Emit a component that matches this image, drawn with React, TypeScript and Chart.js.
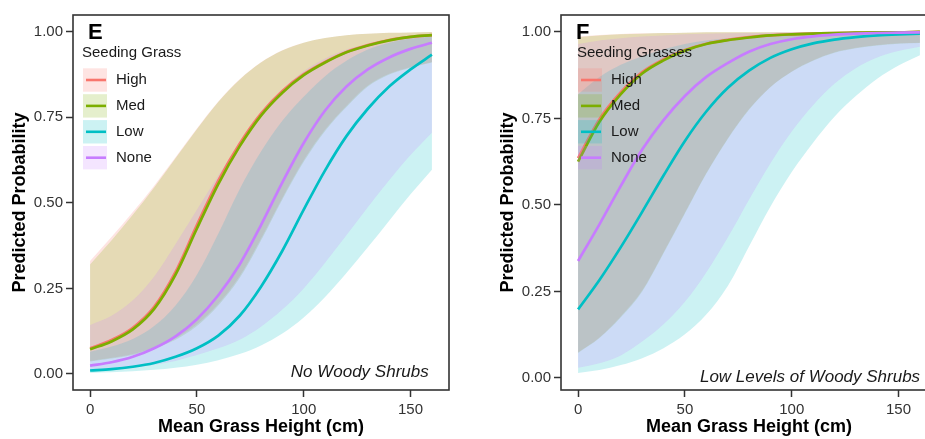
import React, { useEffect, useRef } from "react";
import { Chart, registerables } from "chart.js";

Chart.register(...registerables);

const FONT = "'Liberation Sans', Arial, Helvetica, sans-serif";
Chart.defaults.font.family = FONT;

// ---------- shared ----------
const heights = [0, 10, 20, 30, 40, 50, 60, 70, 80, 90, 100, 110, 120, 130, 140, 150, 160];
const groups = ["High", "Med", "Low", "None"];
const groupColors = ["#F8766D", "#7CAE00", "#00BFC4", "#C77CFF"];
const groupFills = [
  "rgba(248,118,109,0.2)",
  "rgba(124,174,0,0.2)",
  "rgba(0,191,196,0.2)",
  "rgba(199,124,255,0.2)",
];
const xTicks = [0, 50, 100, 150];
const yTicks = [0, 0.25, 0.5, 0.75, 1.0];

// ---------- panel E : No Woody Shrubs ----------
const eHighFit = [0.075, 0.099, 0.135, 0.196, 0.298, 0.435, 0.565, 0.673, 0.761, 0.827, 0.876, 0.912, 0.941, 0.961, 0.976, 0.985, 0.99];
const eMedFit = [0.072, 0.095, 0.13, 0.19, 0.29, 0.425, 0.555, 0.665, 0.755, 0.822, 0.873, 0.91, 0.94, 0.96, 0.975, 0.985, 0.99];
const eLowFit = [0.01, 0.014, 0.021, 0.032, 0.05, 0.075, 0.112, 0.17, 0.255, 0.36, 0.48, 0.595, 0.695, 0.775, 0.84, 0.89, 0.933];
const eNoneFit = [0.024, 0.034, 0.05, 0.075, 0.11, 0.16, 0.23, 0.32, 0.435, 0.56, 0.675, 0.77, 0.84, 0.89, 0.925, 0.95, 0.968];

const eHighHi = [0.33, 0.4, 0.473, 0.55, 0.633, 0.717, 0.796, 0.861, 0.911, 0.946, 0.968, 0.982, 0.99, 0.994, 0.997, 0.998, 0.999];
const eHighLo = [0.038, 0.047, 0.058, 0.078, 0.104, 0.145, 0.205, 0.286, 0.396, 0.515, 0.625, 0.714, 0.784, 0.843, 0.877, 0.897, 0.912];
const eMedHi = [0.32, 0.39, 0.465, 0.545, 0.63, 0.715, 0.795, 0.86, 0.91, 0.945, 0.968, 0.982, 0.99, 0.994, 0.997, 0.998, 0.999];
const eMedLo = [0.036, 0.045, 0.055, 0.075, 0.1, 0.14, 0.2, 0.28, 0.39, 0.51, 0.62, 0.71, 0.78, 0.84, 0.875, 0.895, 0.91];
const eLowHi = [0.065, 0.08, 0.102, 0.14, 0.2, 0.29, 0.41, 0.54, 0.65, 0.74, 0.81, 0.87, 0.915, 0.948, 0.968, 0.98, 0.986];
const eLowLo = [0.003, 0.005, 0.008, 0.012, 0.018, 0.027, 0.04, 0.058, 0.083, 0.118, 0.165, 0.225, 0.295, 0.37, 0.448, 0.525, 0.597];
const eNoneHi = [0.143, 0.17, 0.215, 0.285, 0.38, 0.48, 0.58, 0.675, 0.76, 0.83, 0.885, 0.922, 0.948, 0.964, 0.975, 0.983, 0.988];
const eNoneLo = [0.008, 0.012, 0.018, 0.027, 0.038, 0.055, 0.075, 0.1, 0.138, 0.188, 0.25, 0.325, 0.405, 0.487, 0.566, 0.64, 0.705];

// ---------- panel F : Low Levels of Woody Shrubs ----------
const fHighFit = [0.635, 0.748, 0.826, 0.884, 0.921, 0.948, 0.966, 0.977, 0.985, 0.99, 0.993, 0.995, 0.997, 0.998, 0.999, 0.999, 1.0];
const fMedFit = [0.625, 0.74, 0.82, 0.88, 0.918, 0.946, 0.965, 0.976, 0.984, 0.99, 0.993, 0.995, 0.997, 0.998, 0.999, 0.999, 1.0];
const fLowFit = [0.198, 0.283, 0.378, 0.48, 0.585, 0.685, 0.77, 0.838, 0.888, 0.925, 0.95, 0.967, 0.978, 0.985, 0.99, 0.993, 0.995];
const fNoneFit = [0.338, 0.444, 0.555, 0.66, 0.745, 0.815, 0.87, 0.91, 0.943, 0.965, 0.979, 0.987, 0.992, 0.995, 0.997, 0.998, 0.999];

const fHighHi = [0.987, 0.991, 0.994, 0.996, 0.997, 0.998, 0.999, 0.999, 0.999, 0.999, 0.999, 0.999, 0.999, 0.999, 0.999, 0.999, 0.999];
const fHighLo = [0.074, 0.117, 0.178, 0.253, 0.363, 0.478, 0.592, 0.692, 0.777, 0.841, 0.886, 0.918, 0.941, 0.954, 0.962, 0.967, 0.969];
const fMedHi = [0.985, 0.99, 0.993, 0.995, 0.997, 0.998, 0.999, 0.999, 0.999, 0.999, 0.999, 0.999, 0.999, 0.999, 0.999, 0.999, 0.999];
const fMedLo = [0.072, 0.115, 0.175, 0.25, 0.36, 0.475, 0.59, 0.69, 0.775, 0.84, 0.885, 0.917, 0.94, 0.953, 0.961, 0.966, 0.968];
const fLowHi = [0.82, 0.87, 0.905, 0.93, 0.95, 0.965, 0.975, 0.982, 0.987, 0.99, 0.993, 0.995, 0.996, 0.997, 0.998, 0.998, 0.999];
const fLowLo = [0.0145, 0.023, 0.037, 0.057, 0.086, 0.126, 0.183, 0.265, 0.38, 0.495, 0.595, 0.68, 0.755, 0.815, 0.865, 0.903, 0.933];
const fNoneHi = [0.965, 0.975, 0.982, 0.987, 0.99, 0.993, 0.995, 0.996, 0.997, 0.998, 0.999, 0.999, 0.999, 0.999, 0.999, 0.999, 0.999];
const fNoneLo = [0.029, 0.042, 0.065, 0.105, 0.155, 0.22, 0.305, 0.405, 0.515, 0.62, 0.712, 0.788, 0.85, 0.895, 0.926, 0.945, 0.957];

type PanelCfg = {
  letter: string;
  legendTitle: string;
  legendX: number;
  note: string;
  noteX: number;
  noteY: number;
  yMin: number;
  yMax: number;
  fits: number[][];
  his: number[][];
  los: number[][];
};

const panelE: PanelCfg = {
  letter: "E",
  legendTitle: "Seeding Grass",
  legendX: 10,
  note: "No Woody Shrubs",
  noteX: 158.5,
  noteY: -0.008,
  yMin: -0.047,
  yMax: 1.049,
  fits: [eHighFit, eMedFit, eLowFit, eNoneFit],
  his: [eHighHi, eMedHi, eLowHi, eNoneHi],
  los: [eHighLo, eMedLo, eLowLo, eNoneLo],
};

const panelF: PanelCfg = {
  letter: "F",
  legendTitle: "Seeding Grasses",
  legendX: 17,
  note: "Low Levels of Woody Shrubs",
  noteX: 160.1,
  noteY: -0.012,
  yMin: -0.035,
  yMax: 1.049,
  fits: [fHighFit, fMedFit, fLowFit, fNoneFit],
  his: [fHighHi, fMedHi, fLowHi, fNoneHi],
  los: [fHighLo, fMedLo, fLowLo, fNoneLo],
};

const pts = (arr: number[]) => heights.map((x, i) => ({ x, y: arr[i] }));

const decorPlugin = {
  id: "panelDecor",
  afterDraw(chart: any, _args: any, opts: any) {
    const { ctx, chartArea: a } = chart;
    ctx.save();
    // panel border
    ctx.strokeStyle = "#333333";
    ctx.lineWidth = 1.6;
    ctx.strokeRect(a.left, a.top, a.right - a.left, a.bottom - a.top);
    // panel letter
    ctx.fillStyle = "#000";
    ctx.textAlign = "left";
    ctx.textBaseline = "alphabetic";
    ctx.font = `bold 22px ${FONT}`;
    ctx.fillText(opts.letter, a.left + 15, a.top + 23.5);
    // legend
    const kx = a.left + opts.legendX;
    ctx.font = `15px ${FONT}`;
    ctx.fillStyle = "#1a1a1a";
    ctx.fillText(opts.legendTitle, kx - 1, a.top + 42.3);
    groups.forEach((g: string, i: number) => {
      const top = a.top + 53.3 + i * 25.9;
      const cy = top + 11.7;
      ctx.fillStyle = groupFills[i];
      ctx.fillRect(kx, top, 24, 23.4);
      ctx.strokeStyle = groupColors[i];
      ctx.lineWidth = 2.6;
      ctx.beginPath();
      ctx.moveTo(kx + 3, cy);
      ctx.lineTo(kx + 23, cy);
      ctx.stroke();
      ctx.fillStyle = "#1a1a1a";
      ctx.textBaseline = "middle";
      ctx.fillText(g, kx + 33, cy);
      ctx.textBaseline = "alphabetic";
    });
    // annotation
    ctx.font = `italic 17px ${FONT}`;
    ctx.textAlign = "right";
    ctx.fillStyle = "#1a1a1a";
    ctx.fillText(
      opts.note,
      chart.scales.x.getPixelForValue(opts.noteX),
      chart.scales.y.getPixelForValue(opts.noteY)
    );
    ctx.restore();
  },
};

function buildConfig(cfg: PanelCfg): any {
  const transparent = "rgba(0,0,0,0)";
  const ribbons = groups.flatMap((g, i) => [
    {
      label: g + " upper",
      data: pts(cfg.his[i]),
      fill: "+1",
      backgroundColor: groupFills[i],
      borderColor: transparent,
      borderWidth: 0,
      pointRadius: 0,
      order: 14 - i,
    },
    {
      label: g + " lower",
      data: pts(cfg.los[i]),
      fill: false,
      backgroundColor: transparent,
      borderColor: transparent,
      borderWidth: 0,
      pointRadius: 0,
      order: 14 - i,
    },
  ]);
  const lines = groups.map((g, i) => ({
    label: g,
    data: pts(cfg.fits[i]),
    fill: false,
    borderColor: groupColors[i],
    backgroundColor: groupColors[i],
    borderWidth: 2.7,
    pointRadius: 0,
    order: 4 - i,
  }));
  const tickFont = { size: 15, family: FONT };
  return {
    type: "line",
    data: { datasets: [...ribbons, ...lines] },
    options: {
      responsive: false,
      maintainAspectRatio: false,
      animation: false,
      layout: { padding: { left: 0, right: 13, top: 15, bottom: 0 } },
      elements: {
        point: { radius: 0 },
        line: { cubicInterpolationMode: "monotone" },
      },
      plugins: {
        legend: { display: false },
        tooltip: { enabled: false },
        panelDecor: {
          letter: cfg.letter,
          legendTitle: cfg.legendTitle,
          legendX: cfg.legendX,
          note: cfg.note,
          noteX: cfg.noteX,
          noteY: cfg.noteY,
        },
      },
      scales: {
        x: {
          type: "linear",
          min: -8,
          max: 168,
          afterBuildTicks: (s: any) => {
            s.ticks = xTicks.map((v) => ({ value: v }));
          },
          afterFit: (s: any) => {
            s.height = 49;
          },
          grid: {
            display: true,
            drawOnChartArea: false,
            drawTicks: true,
            tickLength: 7,
            color: "#333333",
            tickColor: "#333333",
            tickWidth: 1.5,
          },
          border: { display: false },
          ticks: {
            font: tickFont,
            color: "#333333",
            padding: 4,
            maxRotation: 0,
            autoSkip: false,
            callback: (v: any) => String(v),
          },
          title: {
            display: true,
            text: "Mean Grass Height (cm)",
            color: "#000",
            font: { size: 18, weight: "bold", lineHeight: 1, family: FONT },
            padding: { top: 0, bottom: 3 },
          },
        },
        y: {
          type: "linear",
          min: cfg.yMin,
          max: cfg.yMax,
          afterBuildTicks: (s: any) => {
            s.ticks = yTicks.map((v) => ({ value: v }));
          },
          afterFit: (s: any) => {
            s.width = 73;
          },
          grid: {
            display: true,
            drawOnChartArea: false,
            drawTicks: true,
            tickLength: 7,
            color: "#333333",
            tickColor: "#333333",
            tickWidth: 1.5,
          },
          border: { display: false },
          ticks: {
            font: tickFont,
            color: "#333333",
            padding: 3,
            autoSkip: false,
            callback: (v: any) => Number(v).toFixed(2),
          },
          title: {
            display: true,
            text: "Predicted Probability",
            color: "#000",
            font: { size: 18, weight: "bold", lineHeight: 1, family: FONT },
            padding: { top: 11, bottom: 0 },
          },
        },
      },
    },
    plugins: [decorPlugin],
  };
}

function Panel({ cfg, left }: { cfg: PanelCfg; left: number }) {
  const ref = useRef<HTMLCanvasElement>(null);
  useEffect(() => {
    const chart = new Chart(ref.current as HTMLCanvasElement, buildConfig(cfg));
    return () => chart.destroy();
  }, [cfg]);
  return (
    <canvas
      ref={ref}
      width={462}
      height={439}
      style={{ position: "absolute", left, top: 0, width: 462, height: 439 }}
    />
  );
}

export default function App() {
  return (
    <div
      style={{
        position: "fixed",
        left: 0,
        top: 0,
        width: 925,
        height: 439,
        overflow: "hidden",
        background: "#fff",
      }}
    >
      <Panel cfg={panelE} left={0} />
      <Panel cfg={panelF} left={488} />
    </div>
  );
}
